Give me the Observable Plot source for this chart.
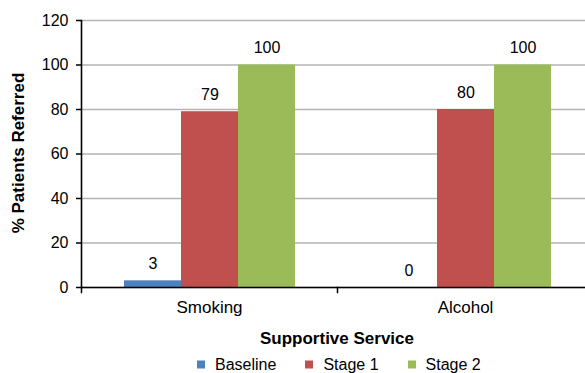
<!DOCTYPE html>
<html>
<head>
<meta charset="utf-8">
<script src="https://cdn.jsdelivr.net/npm/d3@7"></script>
<script src="https://cdn.jsdelivr.net/npm/@observablehq/plot@0.6"></script>
<style>
  html, body { margin: 0; padding: 0; background: #fff; }
  #chart {
    position: relative; width: 585px; height: 373px; overflow: hidden;
    font-family: "Liberation Sans", Arial, sans-serif; color: #000;
  }
  #chart svg { position: absolute; left: 0; top: 0; max-width: none !important; }
  .ytitle {
    position: absolute; left: 19px; top: 153px; white-space: nowrap;
    transform: translate(-50%, -50%) rotate(-90deg);
    font-weight: bold; font-size: 17px;
  }
  .xtitle {
    position: absolute; left: 337px; top: 339px; white-space: nowrap;
    transform: translate(-50%, -50%);
    font-weight: bold; font-size: 17px;
  }
  .legend {
    position: absolute; left: 197px; top: 364px; transform: translateY(-50%);
    display: flex; align-items: center; font-size: 16px; line-height: 17px; white-space: nowrap;
  }
  .legend .item { display: flex; align-items: center; margin-right: 29px; }
  .legend .sw { width: 8px; height: 8px; margin-right: 10px; }
</style>
</head>
<body>
<div id="chart"></div>
<script>
// Referral rates by supportive service and stage
const categories = ["Smoking", "Alcohol"];
const series = ["Baseline", "Stage 1", "Stage 2"];
const smoking = [3, 79, 100];
const alcohol = [0, 80, 100];
const colors = ["#4F81BD", "#C0504D", "#9BBB59"];
const yTicks = [0, 20, 40, 60, 80, 100, 120];

const valuesByCategory = {Smoking: smoking, Alcohol: alcohol};
const rows = categories.flatMap(c =>
  series.map((s, i) => ({category: c, series: s, value: valuesByCategory[c][i]}))
);

const width = 593, height = 350;
const marginTop = 20, marginBottom = 63, marginLeft = 81, marginRight = 0;
const plotHeight = height - marginTop - marginBottom;

const chart = Plot.plot({
  width, height, marginTop, marginBottom, marginLeft, marginRight,
  style: {fontFamily: "'Liberation Sans', Arial, sans-serif", fontSize: "16px", color: "#000", background: "transparent"},
  fx: {domain: categories, padding: 0},
  x: {domain: series, paddingInner: 0, paddingOuter: 0.733, axis: null},
  y: {domain: [0, 120], axis: null},
  color: {domain: series, range: colors},
  marks: [
    Plot.gridY(yTicks, {stroke: "#b3b3b3", strokeOpacity: 1, strokeWidth: 1.3}),
    Plot.barY(rows, {fx: "category", x: "series", y: "value", fill: "series"}),
    Plot.text(rows, {fx: "category", x: "series", y: "value", text: d => String(d.value), dy: -17, fontSize: 16, fill: "#000"}),
    Plot.ruleY([0], {stroke: "#000", strokeWidth: 1.6}),
    Plot.frame({anchor: "left", insetTop: plotHeight, insetBottom: -5, stroke: "#000", strokeWidth: 1.5}),
    Plot.axisY({ticks: yTicks, tickSize: 5, tickPadding: 8, fontSize: 16, label: null, stroke: "#000", strokeWidth: 1.5}),
    Plot.frame({anchor: "left", stroke: "#000", strokeWidth: 1.6, facet: "super"}),
    Plot.axisFx({anchor: "bottom", tickSize: 0, tickPadding: 13, fontSize: 17, label: null})
  ]
});

const root = document.getElementById("chart");
root.appendChild(chart);

const yt = document.createElement("div");
yt.className = "ytitle";
yt.textContent = "% Patients Referred";
root.appendChild(yt);

const xt = document.createElement("div");
xt.className = "xtitle";
xt.textContent = "Supportive Service";
root.appendChild(xt);

const legend = document.createElement("div");
legend.className = "legend";
series.forEach((s, i) => {
  const item = document.createElement("div");
  item.className = "item";
  const sw = document.createElement("span");
  sw.className = "sw";
  sw.style.background = colors[i];
  const label = document.createElement("span");
  label.textContent = s;
  item.appendChild(sw);
  item.appendChild(label);
  legend.appendChild(item);
});
root.appendChild(legend);
</script>
</body>
</html>
